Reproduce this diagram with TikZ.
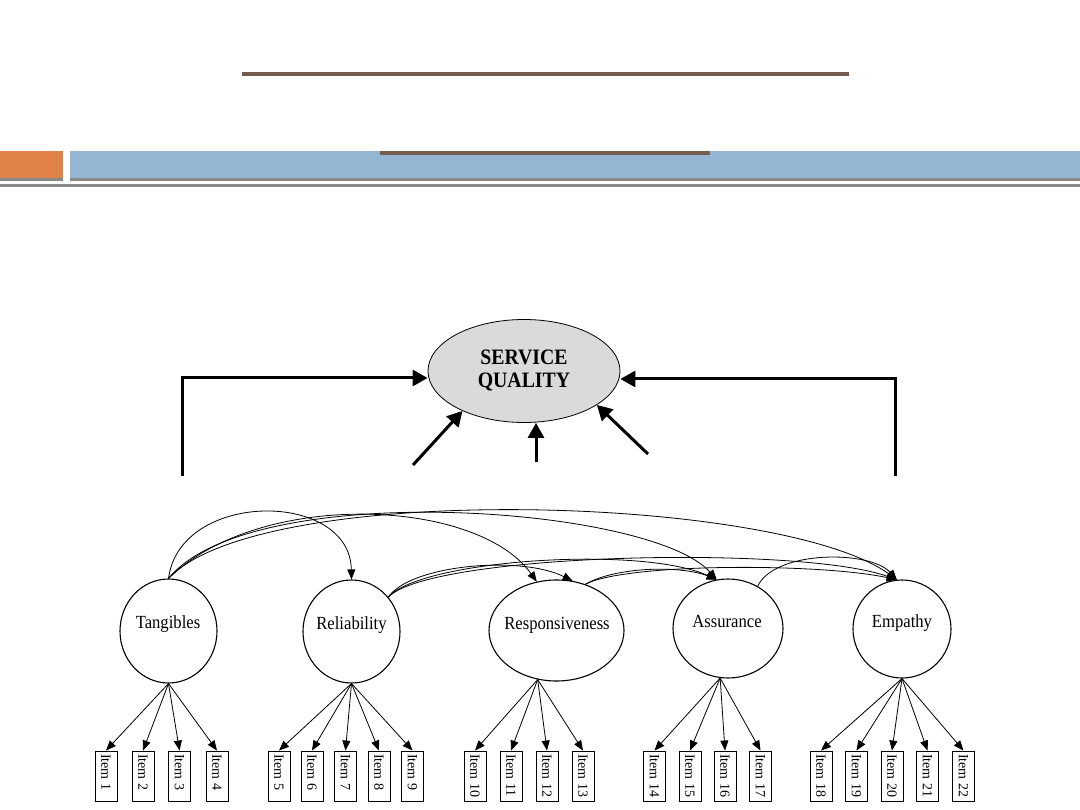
\documentclass[tikz,border=0pt]{standalone}
\usepackage{fontspec}
\setmainfont{Liberation Serif}
\usetikzlibrary{shapes.geometric,arrows.meta}
\definecolor{hdrorange}{RGB}{224,130,71}
\definecolor{hdrblue}{RGB}{148,182,210}
\definecolor{hdrbrown}{RGB}{118,91,79}
\definecolor{hdrgray}{RGB}{138,138,138}
\definecolor{sqfill}{RGB}{218,218,218}
\newcommand{\narrowtxt}[1]{\scalebox{0.9}[1]{#1}}
\begin{document}
\begin{tikzpicture}[x=1pt,y=-1pt,
  latent/.style={draw, ellipse, line width=1.1pt, inner sep=0pt},
  lbl/.style={font=\fontsize{18.5}{21}\selectfont, anchor=base, inner sep=0pt},
  itembox/.style={draw, line width=0.9pt, rotate=-90, minimum width=50pt, minimum height=22pt,
    inner sep=0pt, font=\fontsize{14}{16}\selectfont},
  thinarr/.style={line width=0.8pt, -{Triangle[length=10pt,width=8pt]}},
  bigarr/.style={line width=3pt, line join=miter, -{Triangle[length=15pt,width=16pt]}}
]
\useasboundingbox (0,0) rectangle (1080,810);
\fill[white] (0,0) rectangle (1080,810);
% header
\fill[hdrbrown] (242,72) rectangle (849,76);
\fill[hdrorange] (0,151) rectangle (63,178);
\fill[hdrgray] (0,178) rectangle (63,181);
\fill[hdrblue] (70,151) rectangle (1080,178);
\fill[hdrgray] (70,178) rectangle (1080,181);
\fill[hdrgray] (0,184) rectangle (1080,187);
\fill[hdrbrown] (380,151) rectangle (710,155);

% service quality
\node[draw, ellipse, fill=sqfill, line width=0.8pt, minimum width=192pt, minimum height=103pt,
  inner sep=0pt, align=center, font=\bfseries\fontsize{22}{23}\selectfont] (sq) at (524,371) {\narrowtxt{SERVICE}\\\narrowtxt{QUALITY}};

\coordinate (lb) at (182,476); \coordinate (lc) at (182,378);
\coordinate (rb) at (895,476); \coordinate (rc) at (895,379);
\coordinate (d1) at (413,465); \coordinate (mb) at (536,462); \coordinate (d3) at (648,454);
\draw[bigarr] (lb) -- (lc) -- (sq.west |- lc);
\draw[bigarr] (rb) -- (rc) -- (sq.east |- rc);
\draw[bigarr] (d1) -- (sq.213);
\draw[bigarr] (mb) -- (sq.south -| mb);
\draw[bigarr] (d3) -- (sq.-25);

% latent factors
\node[latent, minimum width=97pt, minimum height=104pt] (tang) at (168.5,631) {};
\node[latent, minimum width=97pt, minimum height=103pt] (rel) at (351.5,631.5) {};
\node[latent, minimum width=135pt, minimum height=101pt] (resp) at (556.5,630.5) {};
\node[latent, minimum width=110pt, minimum height=99pt] (assur) at (728,628.5) {};
\node[latent, minimum width=98pt, minimum height=98pt] (emp) at (902,629) {};
\node[lbl] (tangt) at (168,628.5) {\narrowtxt{Tangibles}};
\node[lbl] (relt) at (351.5,629.5) {\narrowtxt{Reliability}};
\node[lbl] (respt) at (557,629.5) {\narrowtxt{Responsiveness}};
\node[lbl] (assurt) at (727,627.5) {\narrowtxt{Assurance}};
\node[lbl] (empt) at (902,627.5) {\narrowtxt{Empathy}};

% correlations
\draw[thinarr] (tang.north) .. controls (180,490) and (350,490) .. (rel.north);
\draw[thinarr] (tang.north) .. controls (260,489) and (477,498) .. (resp.112);
\draw[thinarr] (tang.north) .. controls (250,478) and (650,505) .. (assur.103);
\draw[thinarr] (tang.north) .. controls (260,480) and (780,495) .. (emp.96);
\draw[thinarr] (rel.43) .. controls (410,565) and (520,555) .. (resp.72);
\draw[thinarr] (rel.43) .. controls (420,560) and (640,545) .. (assur.103);
\draw[thinarr] (rel.43) .. controls (430,553) and (800,545) .. (emp.96);
\draw[thinarr] (resp.58) .. controls (615,567) and (680,565) .. (assur.103);
\draw[thinarr] (resp.58) .. controls (625,563) and (820,563) .. (emp.96);
\draw[thinarr] (assur.55) .. controls (775,550) and (870,550) .. (emp.96);

% items
\foreach \n/\x/\f in {1/106/tang.south, 2/143/tang.south, 3/179.5/tang.south, 4/217/tang.south,
  5/279/rel.south, 6/312/rel.south, 7/345.5/rel.south, 8/379/rel.south, 9/412.5/rel.south,
  10/475/resp.249, 11/511/resp.249, 12/547/resp.249, 13/583/resp.249,
  14/654.5/assur.261, 15/690/assur.261, 16/725/assur.261, 17/760.5/assur.261,
  18/821/emp.south, 19/856.5/emp.south, 20/892/emp.south, 21/927.5/emp.south, 22/963.5/emp.south} {
  \node[itembox] (i\n) at (\x,776) {\makebox[44pt][l]{Item \n}};
  \draw[thinarr] (\f) -- (i\n.west);
}
\end{tikzpicture}
\end{document}
